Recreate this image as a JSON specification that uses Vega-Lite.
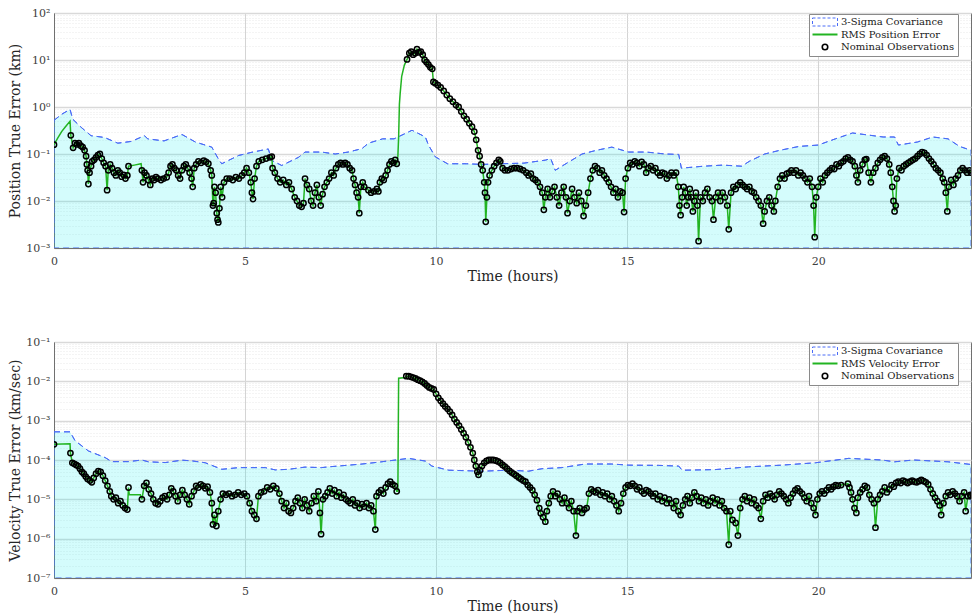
{
  "$schema": "https://vega.github.io/schema/vega-lite/v6.json",
  "padding": {"left": 8, "top": 6, "right": 0, "bottom": 0},
  "bounds": "flush",
  "spacing": 94,
  "datasets": {
    "posErr": [
      {"t":0,"v":0.158,"o":1},{"t":0.1,"v":0.22,"o":0},{"t":0.2,"v":0.3,"o":0},{"t":0.3,"v":0.38,"o":0},{"t":0.42,"v":0.5,"o":0},
      {"t":0.44,"v":0.25,"o":1},{"t":0.5,"v":0.135,"o":1},{"t":0.55,"v":0.17,"o":1},{"t":0.6,"v":0.16,"o":1},{"t":0.65,"v":0.17,"o":1},
      {"t":0.7,"v":0.15,"o":1},{"t":0.75,"v":0.14,"o":1},{"t":0.8,"v":0.12,"o":1},{"t":0.84,"v":0.09,"o":1},{"t":0.86,"v":0.06,"o":1},
      {"t":0.88,"v":0.045,"o":1},{"t":0.9,"v":0.023,"o":1},{"t":0.93,"v":0.04,"o":1},{"t":0.97,"v":0.055,"o":1},{"t":1.0,"v":0.07,"o":1},
      {"t":1.05,"v":0.075,"o":1},{"t":1.1,"v":0.085,"o":1},{"t":1.15,"v":0.095,"o":1},{"t":1.2,"v":0.1,"o":1},{"t":1.25,"v":0.08,"o":1},
      {"t":1.3,"v":0.065,"o":1},{"t":1.35,"v":0.055,"o":1},{"t":1.39,"v":0.017,"o":1},{"t":1.42,"v":0.045,"o":1},{"t":1.47,"v":0.06,"o":1},
      {"t":1.52,"v":0.05,"o":1},{"t":1.57,"v":0.04,"o":1},{"t":1.62,"v":0.035,"o":1},{"t":1.67,"v":0.045,"o":1},{"t":1.72,"v":0.04,"o":1},
      {"t":1.77,"v":0.033,"o":1},{"t":1.82,"v":0.036,"o":1},{"t":1.87,"v":0.03,"o":1},{"t":1.92,"v":0.035,"o":1},{"t":1.95,"v":0.055,"o":1},
      {"t":2.1,"v":0.058,"o":0},{"t":2.28,"v":0.062,"o":0},{"t":2.3,"v":0.045,"o":1},{"t":2.33,"v":0.025,"o":1},{"t":2.37,"v":0.04,"o":1},
      {"t":2.42,"v":0.035,"o":1},{"t":2.47,"v":0.028,"o":1},{"t":2.52,"v":0.022,"o":1},{"t":2.57,"v":0.03,"o":1},{"t":2.62,"v":0.028,"o":1},
      {"t":2.67,"v":0.032,"o":1},{"t":2.72,"v":0.03,"o":1},{"t":2.8,"v":0.028,"o":1},{"t":2.87,"v":0.03,"o":1},{"t":2.95,"v":0.032,"o":1},
      {"t":3.0,"v":0.04,"o":1},{"t":3.05,"v":0.055,"o":1},{"t":3.1,"v":0.06,"o":1},{"t":3.15,"v":0.05,"o":1},{"t":3.2,"v":0.045,"o":1},
      {"t":3.25,"v":0.035,"o":1},{"t":3.3,"v":0.03,"o":1},{"t":3.35,"v":0.045,"o":1},{"t":3.4,"v":0.055,"o":1},{"t":3.45,"v":0.06,"o":1},
      {"t":3.5,"v":0.05,"o":1},{"t":3.55,"v":0.04,"o":1},{"t":3.6,"v":0.03,"o":1},{"t":3.63,"v":0.02,"o":1},{"t":3.67,"v":0.05,"o":1},
      {"t":3.72,"v":0.06,"o":1},{"t":3.78,"v":0.07,"o":1},{"t":3.85,"v":0.065,"o":1},{"t":3.92,"v":0.072,"o":1},{"t":3.98,"v":0.068,"o":1},
      {"t":4.04,"v":0.062,"o":1},{"t":4.1,"v":0.045,"o":1},{"t":4.13,"v":0.035,"o":1},{"t":4.16,"v":0.008,"o":1},{"t":4.18,"v":0.009,"o":1},
      {"t":4.2,"v":0.02,"o":1},{"t":4.23,"v":0.015,"o":1},{"t":4.26,"v":0.0055,"o":1},{"t":4.28,"v":0.004,"o":1},{"t":4.3,"v":0.0035,"o":1},
      {"t":4.33,"v":0.007,"o":1},{"t":4.36,"v":0.02,"o":1},{"t":4.4,"v":0.012,"o":1},{"t":4.45,"v":0.025,"o":1},{"t":4.52,"v":0.03,"o":1},
      {"t":4.6,"v":0.03,"o":1},{"t":4.68,"v":0.028,"o":1},{"t":4.76,"v":0.032,"o":1},{"t":4.84,"v":0.03,"o":1},{"t":4.92,"v":0.035,"o":1},
      {"t":4.98,"v":0.04,"o":1},{"t":5.04,"v":0.05,"o":1},{"t":5.1,"v":0.04,"o":1},{"t":5.15,"v":0.025,"o":1},{"t":5.18,"v":0.015,"o":1},
      {"t":5.21,"v":0.011,"o":1},{"t":5.25,"v":0.03,"o":1},{"t":5.3,"v":0.055,"o":1},{"t":5.36,"v":0.07,"o":1},{"t":5.45,"v":0.075,"o":1},
      {"t":5.55,"v":0.08,"o":1},{"t":5.65,"v":0.085,"o":1},{"t":5.7,"v":0.088,"o":1},{"t":5.72,"v":0.05,"o":1},{"t":5.78,"v":0.04,"o":1},
      {"t":5.85,"v":0.03,"o":1},{"t":5.92,"v":0.025,"o":1},{"t":6.0,"v":0.028,"o":1},{"t":6.08,"v":0.022,"o":1},{"t":6.15,"v":0.025,"o":1},
      {"t":6.22,"v":0.018,"o":1},{"t":6.3,"v":0.012,"o":1},{"t":6.36,"v":0.01,"o":1},{"t":6.42,"v":0.008,"o":1},{"t":6.48,"v":0.0075,"o":1},
      {"t":6.53,"v":0.009,"o":1},{"t":6.57,"v":0.03,"o":1},{"t":6.62,"v":0.022,"o":1},{"t":6.68,"v":0.018,"o":1},{"t":6.73,"v":0.01,"o":1},
      {"t":6.78,"v":0.008,"o":1},{"t":6.83,"v":0.015,"o":1},{"t":6.88,"v":0.022,"o":1},{"t":6.93,"v":0.012,"o":1},{"t":6.98,"v":0.008,"o":1},
      {"t":7.03,"v":0.014,"o":1},{"t":7.08,"v":0.02,"o":1},{"t":7.14,"v":0.025,"o":1},{"t":7.2,"v":0.03,"o":1},{"t":7.26,"v":0.04,"o":1},
      {"t":7.32,"v":0.035,"o":1},{"t":7.38,"v":0.05,"o":1},{"t":7.44,"v":0.06,"o":1},{"t":7.5,"v":0.065,"o":1},{"t":7.56,"v":0.06,"o":1},
      {"t":7.62,"v":0.065,"o":1},{"t":7.68,"v":0.06,"o":1},{"t":7.74,"v":0.05,"o":1},{"t":7.8,"v":0.045,"o":1},{"t":7.84,"v":0.03,"o":1},
      {"t":7.88,"v":0.022,"o":1},{"t":7.92,"v":0.015,"o":1},{"t":7.96,"v":0.012,"o":1},{"t":7.99,"v":0.0055,"o":1},{"t":8.03,"v":0.02,"o":1},
      {"t":8.08,"v":0.025,"o":1},{"t":8.12,"v":0.02,"o":1},{"t":8.23,"v":0.017,"o":1},{"t":8.3,"v":0.015,"o":1},{"t":8.38,"v":0.016,"o":1},
      {"t":8.45,"v":0.018,"o":1},{"t":8.49,"v":0.016,"o":1},{"t":8.53,"v":0.025,"o":1},{"t":8.58,"v":0.03,"o":1},{"t":8.63,"v":0.028,"o":1},
      {"t":8.68,"v":0.035,"o":1},{"t":8.73,"v":0.045,"o":1},{"t":8.78,"v":0.06,"o":1},{"t":8.83,"v":0.07,"o":1},{"t":8.88,"v":0.065,"o":1},
      {"t":8.93,"v":0.075,"o":1},{"t":8.97,"v":0.062,"o":1},{"t":9.0,"v":0.09,"o":0},{"t":9.02,"v":0.23,"o":0},{"t":9.04,"v":1.15,"o":0},
      {"t":9.06,"v":1.95,"o":0},{"t":9.1,"v":4.5,"o":0},{"t":9.17,"v":7.8,"o":0},{"t":9.24,"v":10.3,"o":1},{"t":9.3,"v":14,"o":1},
      {"t":9.35,"v":15,"o":1},{"t":9.4,"v":13,"o":1},{"t":9.45,"v":14,"o":1},{"t":9.5,"v":17,"o":1},{"t":9.55,"v":14.5,"o":1},
      {"t":9.6,"v":15,"o":1},{"t":9.65,"v":13,"o":1},{"t":9.7,"v":10,"o":1},{"t":9.75,"v":9,"o":1},{"t":9.8,"v":8,"o":1},
      {"t":9.85,"v":7,"o":1},{"t":9.9,"v":6.5,"o":1},{"t":9.93,"v":3.4,"o":1},{"t":9.98,"v":3.2,"o":1},{"t":10.05,"v":2.9,"o":1},
      {"t":10.12,"v":2.6,"o":1},{"t":10.2,"v":2.2,"o":1},{"t":10.28,"v":1.8,"o":1},{"t":10.36,"v":1.5,"o":1},{"t":10.44,"v":1.3,"o":1},
      {"t":10.52,"v":1.1,"o":1},{"t":10.59,"v":1.0,"o":1},{"t":10.66,"v":0.8,"o":1},{"t":10.73,"v":0.65,"o":1},{"t":10.8,"v":0.55,"o":1},
      {"t":10.87,"v":0.45,"o":1},{"t":10.94,"v":0.38,"o":1},{"t":11.0,"v":0.3,"o":1},{"t":11.05,"v":0.2,"o":1},{"t":11.1,"v":0.12,"o":1},
      {"t":11.14,"v":0.09,"o":1},{"t":11.18,"v":0.06,"o":1},{"t":11.22,"v":0.045,"o":1},{"t":11.26,"v":0.025,"o":1},{"t":11.28,"v":0.015,"o":1},
      {"t":11.3,"v":0.0036,"o":1},{"t":11.33,"v":0.012,"o":1},{"t":11.36,"v":0.025,"o":1},{"t":11.4,"v":0.035,"o":1},{"t":11.46,"v":0.045,"o":1},
      {"t":11.52,"v":0.055,"o":1},{"t":11.58,"v":0.065,"o":1},{"t":11.64,"v":0.075,"o":1},{"t":11.68,"v":0.07,"o":1},{"t":11.74,"v":0.05,"o":1},
      {"t":11.8,"v":0.045,"o":1},{"t":11.88,"v":0.045,"o":1},{"t":11.96,"v":0.048,"o":1},{"t":12.04,"v":0.05,"o":1},{"t":12.12,"v":0.05,"o":1},
      {"t":12.2,"v":0.048,"o":1},{"t":12.28,"v":0.045,"o":1},{"t":12.36,"v":0.04,"o":1},{"t":12.42,"v":0.035,"o":1},{"t":12.48,"v":0.038,"o":1},
      {"t":12.54,"v":0.03,"o":1},{"t":12.6,"v":0.028,"o":1},{"t":12.66,"v":0.025,"o":1},{"t":12.72,"v":0.02,"o":1},{"t":12.78,"v":0.015,"o":1},
      {"t":12.82,"v":0.0065,"o":1},{"t":12.86,"v":0.012,"o":1},{"t":12.92,"v":0.018,"o":1},{"t":12.98,"v":0.012,"o":1},{"t":13.04,"v":0.016,"o":1},
      {"t":13.1,"v":0.02,"o":1},{"t":13.16,"v":0.012,"o":1},{"t":13.22,"v":0.008,"o":1},{"t":13.28,"v":0.015,"o":1},{"t":13.34,"v":0.02,"o":1},
      {"t":13.4,"v":0.012,"o":1},{"t":13.44,"v":0.0055,"o":1},{"t":13.5,"v":0.01,"o":1},{"t":13.56,"v":0.018,"o":1},{"t":13.62,"v":0.012,"o":1},
      {"t":13.68,"v":0.009,"o":1},{"t":13.74,"v":0.015,"o":1},{"t":13.8,"v":0.01,"o":1},{"t":13.86,"v":0.0048,"o":1},{"t":13.92,"v":0.008,"o":1},
      {"t":13.98,"v":0.015,"o":1},{"t":14.04,"v":0.03,"o":1},{"t":14.1,"v":0.045,"o":1},{"t":14.16,"v":0.055,"o":1},{"t":14.22,"v":0.05,"o":1},
      {"t":14.28,"v":0.04,"o":1},{"t":14.34,"v":0.045,"o":1},{"t":14.4,"v":0.035,"o":1},{"t":14.46,"v":0.03,"o":1},{"t":14.52,"v":0.025,"o":1},
      {"t":14.58,"v":0.02,"o":1},{"t":14.64,"v":0.015,"o":1},{"t":14.7,"v":0.018,"o":1},{"t":14.76,"v":0.012,"o":1},{"t":14.82,"v":0.016,"o":1},
      {"t":14.88,"v":0.015,"o":1},{"t":14.92,"v":0.0058,"o":1},{"t":14.96,"v":0.03,"o":1},{"t":15.02,"v":0.05,"o":1},{"t":15.08,"v":0.065,"o":1},
      {"t":15.14,"v":0.06,"o":1},{"t":15.2,"v":0.07,"o":1},{"t":15.26,"v":0.065,"o":1},{"t":15.32,"v":0.055,"o":1},{"t":15.38,"v":0.068,"o":1},
      {"t":15.44,"v":0.06,"o":1},{"t":15.5,"v":0.04,"o":1},{"t":15.56,"v":0.05,"o":1},{"t":15.62,"v":0.055,"o":1},{"t":15.68,"v":0.045,"o":1},
      {"t":15.74,"v":0.05,"o":1},{"t":15.8,"v":0.04,"o":1},{"t":15.86,"v":0.035,"o":1},{"t":15.92,"v":0.04,"o":1},{"t":15.98,"v":0.038,"o":1},
      {"t":16.04,"v":0.03,"o":1},{"t":16.1,"v":0.035,"o":1},{"t":16.16,"v":0.04,"o":1},{"t":16.22,"v":0.035,"o":1},{"t":16.28,"v":0.04,"o":1},
      {"t":16.34,"v":0.02,"o":1},{"t":16.37,"v":0.008,"o":1},{"t":16.4,"v":0.005,"o":1},{"t":16.44,"v":0.012,"o":1},{"t":16.48,"v":0.02,"o":1},
      {"t":16.52,"v":0.015,"o":1},{"t":16.56,"v":0.008,"o":1},{"t":16.6,"v":0.012,"o":1},{"t":16.64,"v":0.018,"o":1},{"t":16.68,"v":0.012,"o":1},
      {"t":16.72,"v":0.006,"o":1},{"t":16.76,"v":0.01,"o":1},{"t":16.8,"v":0.015,"o":1},{"t":16.84,"v":0.008,"o":1},{"t":16.87,"v":0.0014,"o":1},
      {"t":16.92,"v":0.012,"o":1},{"t":16.98,"v":0.01,"o":1},{"t":17.04,"v":0.015,"o":1},{"t":17.1,"v":0.018,"o":1},{"t":17.16,"v":0.012,"o":1},
      {"t":17.22,"v":0.01,"o":1},{"t":17.26,"v":0.004,"o":1},{"t":17.32,"v":0.012,"o":1},{"t":17.38,"v":0.015,"o":1},{"t":17.44,"v":0.01,"o":1},
      {"t":17.5,"v":0.015,"o":1},{"t":17.56,"v":0.012,"o":1},{"t":17.62,"v":0.008,"o":1},{"t":17.66,"v":0.0025,"o":1},{"t":17.72,"v":0.015,"o":1},
      {"t":17.78,"v":0.02,"o":1},{"t":17.84,"v":0.018,"o":1},{"t":17.9,"v":0.022,"o":1},{"t":17.96,"v":0.025,"o":1},{"t":18.02,"v":0.022,"o":1},
      {"t":18.08,"v":0.02,"o":1},{"t":18.14,"v":0.018,"o":1},{"t":18.2,"v":0.02,"o":1},{"t":18.26,"v":0.016,"o":1},{"t":18.32,"v":0.015,"o":1},
      {"t":18.38,"v":0.012,"o":1},{"t":18.44,"v":0.01,"o":1},{"t":18.5,"v":0.008,"o":1},{"t":18.56,"v":0.0033,"o":1},{"t":18.6,"v":0.006,"o":1},
      {"t":18.66,"v":0.01,"o":1},{"t":18.72,"v":0.012,"o":1},{"t":18.78,"v":0.008,"o":1},{"t":18.84,"v":0.006,"o":1},{"t":18.88,"v":0.01,"o":1},
      {"t":18.94,"v":0.02,"o":1},{"t":19.0,"v":0.03,"o":1},{"t":19.06,"v":0.035,"o":1},{"t":19.12,"v":0.03,"o":1},{"t":19.18,"v":0.038,"o":1},
      {"t":19.24,"v":0.04,"o":1},{"t":19.3,"v":0.045,"o":1},{"t":19.36,"v":0.04,"o":1},{"t":19.42,"v":0.045,"o":1},{"t":19.48,"v":0.035,"o":1},
      {"t":19.54,"v":0.04,"o":1},{"t":19.6,"v":0.035,"o":1},{"t":19.66,"v":0.03,"o":1},{"t":19.72,"v":0.025,"o":1},{"t":19.78,"v":0.03,"o":1},
      {"t":19.84,"v":0.02,"o":1},{"t":19.88,"v":0.008,"o":1},{"t":19.91,"v":0.0017,"o":1},{"t":19.95,"v":0.012,"o":1},{"t":20.0,"v":0.02,"o":1},
      {"t":20.06,"v":0.03,"o":1},{"t":20.12,"v":0.025,"o":1},{"t":20.18,"v":0.035,"o":1},{"t":20.24,"v":0.04,"o":1},{"t":20.3,"v":0.045,"o":1},
      {"t":20.36,"v":0.05,"o":1},{"t":20.42,"v":0.048,"o":1},{"t":20.48,"v":0.06,"o":1},{"t":20.54,"v":0.055,"o":1},{"t":20.6,"v":0.065,"o":1},
      {"t":20.66,"v":0.07,"o":1},{"t":20.72,"v":0.08,"o":1},{"t":20.78,"v":0.085,"o":1},{"t":20.84,"v":0.075,"o":1},{"t":20.9,"v":0.07,"o":1},
      {"t":20.96,"v":0.055,"o":1},{"t":21.0,"v":0.035,"o":1},{"t":21.04,"v":0.025,"o":1},{"t":21.1,"v":0.045,"o":1},{"t":21.16,"v":0.06,"o":1},
      {"t":21.22,"v":0.075,"o":1},{"t":21.26,"v":0.078,"o":1},{"t":21.32,"v":0.04,"o":1},{"t":21.38,"v":0.025,"o":1},{"t":21.44,"v":0.04,"o":1},
      {"t":21.5,"v":0.05,"o":1},{"t":21.56,"v":0.065,"o":1},{"t":21.62,"v":0.075,"o":1},{"t":21.68,"v":0.085,"o":1},{"t":21.74,"v":0.09,"o":1},
      {"t":21.8,"v":0.08,"o":1},{"t":21.86,"v":0.06,"o":1},{"t":21.9,"v":0.04,"o":1},{"t":21.94,"v":0.02,"o":1},{"t":21.97,"v":0.01,"o":1},
      {"t":22.0,"v":0.006,"o":1},{"t":22.03,"v":0.008,"o":1},{"t":22.06,"v":0.03,"o":1},{"t":22.12,"v":0.05,"o":1},{"t":22.18,"v":0.045,"o":1},
      {"t":22.24,"v":0.055,"o":1},{"t":22.3,"v":0.06,"o":1},{"t":22.36,"v":0.065,"o":1},{"t":22.42,"v":0.07,"o":1},{"t":22.48,"v":0.075,"o":1},
      {"t":22.54,"v":0.08,"o":1},{"t":22.6,"v":0.09,"o":1},{"t":22.66,"v":0.1,"o":1},{"t":22.72,"v":0.11,"o":1},{"t":22.78,"v":0.105,"o":1},
      {"t":22.84,"v":0.095,"o":1},{"t":22.9,"v":0.08,"o":1},{"t":22.96,"v":0.07,"o":1},{"t":23.02,"v":0.06,"o":1},{"t":23.08,"v":0.05,"o":1},
      {"t":23.14,"v":0.045,"o":1},{"t":23.2,"v":0.04,"o":1},{"t":23.26,"v":0.03,"o":1},{"t":23.3,"v":0.025,"o":1},{"t":23.34,"v":0.015,"o":1},
      {"t":23.38,"v":0.006,"o":1},{"t":23.42,"v":0.02,"o":1},{"t":23.48,"v":0.028,"o":1},{"t":23.54,"v":0.022,"o":1},{"t":23.6,"v":0.03,"o":1},
      {"t":23.66,"v":0.035,"o":1},{"t":23.72,"v":0.045,"o":1},{"t":23.78,"v":0.05,"o":1},{"t":23.84,"v":0.045,"o":1},{"t":23.9,"v":0.04,"o":1},
      {"t":23.96,"v":0.045,"o":1},{"t":24.0,"v":0.04,"o":1}
    ],
    "posCov": [
      {"t":0,"v":0.52},{"t":0.2,"v":0.7},{"t":0.42,"v":0.89},{"t":0.49,"v":0.55},{"t":0.71,"v":0.37},{"t":0.97,"v":0.245},
      {"t":1.32,"v":0.225},{"t":1.67,"v":0.17},{"t":2.02,"v":0.185},{"t":2.37,"v":0.245},{"t":2.45,"v":0.21},{"t":2.88,"v":0.19},
      {"t":3.35,"v":0.26},{"t":3.7,"v":0.18},{"t":4.13,"v":0.14},{"t":4.3,"v":0.079},{"t":4.39,"v":0.062},{"t":4.83,"v":0.093},
      {"t":5.18,"v":0.109},{"t":5.61,"v":0.128},{"t":5.7,"v":0.073},{"t":5.96,"v":0.057},{"t":6.4,"v":0.085},{"t":6.57,"v":0.11},
      {"t":7.0,"v":0.11},{"t":7.36,"v":0.1},{"t":7.7,"v":0.11},{"t":8.06,"v":0.13},{"t":8.23,"v":0.17},{"t":8.6,"v":0.21},
      {"t":8.9,"v":0.21},{"t":9.37,"v":0.32},{"t":9.72,"v":0.23},{"t":9.8,"v":0.155},{"t":9.98,"v":0.087},{"t":10.3,"v":0.062},
      {"t":10.8,"v":0.062},{"t":11.2,"v":0.06},{"t":11.7,"v":0.062},{"t":12.3,"v":0.064},{"t":12.86,"v":0.074},{"t":13.0,"v":0.08},
      {"t":13.12,"v":0.045},{"t":13.29,"v":0.055},{"t":13.82,"v":0.1},{"t":14.2,"v":0.12},{"t":14.6,"v":0.14},{"t":15.04,"v":0.11},
      {"t":15.5,"v":0.11},{"t":16.0,"v":0.1},{"t":16.35,"v":0.098},{"t":16.42,"v":0.05},{"t":17.0,"v":0.055},{"t":17.5,"v":0.058},
      {"t":18.0,"v":0.055},{"t":18.2,"v":0.07},{"t":18.6,"v":0.1},{"t":19.0,"v":0.12},{"t":19.5,"v":0.145},{"t":20.0,"v":0.155},
      {"t":20.45,"v":0.21},{"t":20.9,"v":0.28},{"t":21.2,"v":0.26},{"t":21.7,"v":0.23},{"t":22.0,"v":0.23},{"t":22.1,"v":0.155},
      {"t":22.6,"v":0.18},{"t":23.0,"v":0.23},{"t":23.4,"v":0.21},{"t":23.7,"v":0.145},{"t":24.0,"v":0.12}
    ],
    "velErr": [
      {"t":0,"v":2.5e-4,"o":1},{"t":0.42,"v":2.6e-4,"o":0},{"t":0.43,"v":1.5e-4,"o":1},{"t":0.48,"v":8.5e-5,"o":1},{"t":0.53,"v":8.0e-5,"o":1},
      {"t":0.58,"v":7.5e-5,"o":1},{"t":0.63,"v":7e-5,"o":1},{"t":0.68,"v":6e-5,"o":1},{"t":0.73,"v":5e-5,"o":1},{"t":0.78,"v":4.5e-5,"o":1},
      {"t":0.83,"v":3.8e-5,"o":1},{"t":0.88,"v":3.3e-5,"o":1},{"t":0.94,"v":3e-5,"o":1},{"t":0.99,"v":2.7e-5,"o":1},{"t":1.04,"v":3.5e-5,"o":1},
      {"t":1.1,"v":4.5e-5,"o":1},{"t":1.16,"v":5.2e-5,"o":1},{"t":1.22,"v":5e-5,"o":1},{"t":1.28,"v":4e-5,"o":1},{"t":1.34,"v":3e-5,"o":1},
      {"t":1.4,"v":2.2e-5,"o":1},{"t":1.46,"v":1.6e-5,"o":1},{"t":1.5,"v":1.2e-5,"o":1},{"t":1.56,"v":1.0e-5,"o":1},{"t":1.62,"v":1.1e-5,"o":1},
      {"t":1.68,"v":8e-6,"o":1},{"t":1.74,"v":9e-6,"o":1},{"t":1.8,"v":7e-6,"o":1},{"t":1.86,"v":6e-6,"o":1},{"t":1.92,"v":5.5e-6,"o":1},
      {"t":1.95,"v":2.0e-5,"o":1},{"t":1.97,"v":1.3e-5,"o":0},{"t":2.26,"v":1.3e-5,"o":0},{"t":2.3,"v":1.0e-5,"o":1},{"t":2.36,"v":2.2e-5,"o":1},
      {"t":2.42,"v":2.6e-5,"o":1},{"t":2.48,"v":1.8e-5,"o":1},{"t":2.54,"v":1.4e-5,"o":1},{"t":2.6,"v":1.0e-5,"o":1},{"t":2.66,"v":8e-6,"o":1},
      {"t":2.72,"v":7.5e-6,"o":1},{"t":2.78,"v":9e-6,"o":1},{"t":2.84,"v":1.1e-5,"o":1},{"t":2.9,"v":1.2e-5,"o":1},{"t":2.96,"v":1.0e-5,"o":1},
      {"t":3.02,"v":1.3e-5,"o":1},{"t":3.07,"v":1.9e-5,"o":1},{"t":3.12,"v":1.6e-5,"o":1},{"t":3.18,"v":1.2e-5,"o":1},{"t":3.24,"v":9e-6,"o":1},
      {"t":3.3,"v":1.3e-5,"o":1},{"t":3.36,"v":1.7e-5,"o":1},{"t":3.42,"v":1.3e-5,"o":1},{"t":3.48,"v":1e-5,"o":1},{"t":3.54,"v":7.5e-6,"o":1},
      {"t":3.6,"v":1.2e-5,"o":1},{"t":3.66,"v":1.6e-5,"o":1},{"t":3.72,"v":2.2e-5,"o":1},{"t":3.78,"v":2.0e-5,"o":1},{"t":3.84,"v":2.4e-5,"o":1},
      {"t":3.9,"v":2.2e-5,"o":1},{"t":3.96,"v":1.9e-5,"o":1},{"t":4.02,"v":2.1e-5,"o":1},{"t":4.08,"v":1.5e-5,"o":1},{"t":4.13,"v":8e-6,"o":1},
      {"t":4.16,"v":2.3e-6,"o":1},{"t":4.2,"v":4e-6,"o":1},{"t":4.25,"v":2.1e-6,"o":1},{"t":4.3,"v":5e-6,"o":1},{"t":4.36,"v":1.0e-5,"o":1},
      {"t":4.42,"v":1.4e-5,"o":1},{"t":4.5,"v":1.3e-5,"o":1},{"t":4.58,"v":1.4e-5,"o":1},{"t":4.66,"v":1.2e-5,"o":1},{"t":4.74,"v":1.3e-5,"o":1},
      {"t":4.82,"v":1.5e-5,"o":1},{"t":4.9,"v":1.3e-5,"o":1},{"t":4.98,"v":1.4e-5,"o":1},{"t":5.05,"v":1.2e-5,"o":1},{"t":5.12,"v":8e-6,"o":1},
      {"t":5.18,"v":5e-6,"o":1},{"t":5.24,"v":4e-6,"o":1},{"t":5.3,"v":3.2e-6,"o":1},{"t":5.35,"v":1.2e-5,"o":1},{"t":5.42,"v":1.5e-5,"o":1},
      {"t":5.5,"v":1.6e-5,"o":1},{"t":5.58,"v":2e-5,"o":1},{"t":5.66,"v":1.8e-5,"o":1},{"t":5.74,"v":2.2e-5,"o":1},{"t":5.82,"v":1.9e-5,"o":1},
      {"t":5.9,"v":1.4e-5,"o":1},{"t":5.96,"v":9e-6,"o":1},{"t":6.02,"v":6e-6,"o":1},{"t":6.08,"v":8e-6,"o":1},{"t":6.14,"v":5e-6,"o":1},
      {"t":6.2,"v":4.5e-6,"o":1},{"t":6.26,"v":6e-6,"o":1},{"t":6.32,"v":9e-6,"o":1},{"t":6.38,"v":1.1e-5,"o":1},{"t":6.44,"v":8e-6,"o":1},
      {"t":6.5,"v":6e-6,"o":1},{"t":6.56,"v":1.0e-5,"o":1},{"t":6.62,"v":7e-6,"o":1},{"t":6.68,"v":5e-6,"o":1},{"t":6.74,"v":8e-6,"o":1},
      {"t":6.8,"v":1.2e-5,"o":1},{"t":6.86,"v":9e-6,"o":1},{"t":6.92,"v":1.6e-5,"o":1},{"t":6.96,"v":4.5e-6,"o":1},{"t":6.99,"v":1.3e-6,"o":1},
      {"t":7.04,"v":1.0e-5,"o":1},{"t":7.1,"v":1.2e-5,"o":1},{"t":7.16,"v":1.5e-5,"o":1},{"t":7.22,"v":1.9e-5,"o":1},{"t":7.28,"v":1.4e-5,"o":1},
      {"t":7.34,"v":1.7e-5,"o":1},{"t":7.4,"v":1.2e-5,"o":1},{"t":7.46,"v":1.5e-5,"o":1},{"t":7.52,"v":1.1e-5,"o":1},{"t":7.58,"v":1.3e-5,"o":1},
      {"t":7.64,"v":1.0e-5,"o":1},{"t":7.7,"v":9e-6,"o":1},{"t":7.76,"v":8e-6,"o":1},{"t":7.82,"v":1e-5,"o":1},{"t":7.88,"v":7e-6,"o":1},
      {"t":7.94,"v":8e-6,"o":1},{"t":8.0,"v":6e-6,"o":1},{"t":8.06,"v":7.5e-6,"o":1},{"t":8.12,"v":6.5e-6,"o":1},{"t":8.18,"v":8e-6,"o":1},
      {"t":8.24,"v":6e-6,"o":1},{"t":8.3,"v":7e-6,"o":1},{"t":8.36,"v":5e-6,"o":1},{"t":8.41,"v":1.7e-6,"o":1},{"t":8.44,"v":1.2e-5,"o":1},
      {"t":8.5,"v":1.5e-5,"o":1},{"t":8.56,"v":1.7e-5,"o":1},{"t":8.62,"v":1.4e-5,"o":1},{"t":8.68,"v":2.0e-5,"o":1},{"t":8.74,"v":2.5e-5,"o":1},
      {"t":8.8,"v":2.8e-5,"o":1},{"t":8.86,"v":2.4e-5,"o":1},{"t":8.92,"v":2.2e-5,"o":1},{"t":8.97,"v":1.6e-5,"o":1},{"t":9.0,"v":1.6e-5,"o":0},
      {"t":9.02,"v":0.012,"o":0},{"t":9.2,"v":0.0125,"o":0},{"t":9.22,"v":0.0135,"o":1},{"t":9.28,"v":0.0135,"o":1},{"t":9.34,"v":0.013,"o":1},
      {"t":9.4,"v":0.0125,"o":1},{"t":9.46,"v":0.0118,"o":1},{"t":9.52,"v":0.011,"o":1},{"t":9.58,"v":0.0104,"o":1},{"t":9.64,"v":0.0097,"o":1},
      {"t":9.7,"v":0.0088,"o":1},{"t":9.76,"v":0.0078,"o":1},{"t":9.82,"v":0.007,"o":1},{"t":9.88,"v":0.0066,"o":1},{"t":9.94,"v":0.0062,"o":1},
      {"t":10.0,"v":0.0048,"o":1},{"t":10.06,"v":0.0038,"o":1},{"t":10.12,"v":0.0032,"o":1},{"t":10.18,"v":0.0027,"o":1},{"t":10.24,"v":0.0023,"o":1},
      {"t":10.3,"v":0.002,"o":1},{"t":10.36,"v":0.0017,"o":1},{"t":10.42,"v":0.0014,"o":1},{"t":10.48,"v":0.0011,"o":1},{"t":10.54,"v":0.0009,"o":1},
      {"t":10.6,"v":0.00075,"o":1},{"t":10.66,"v":0.0006,"o":1},{"t":10.72,"v":0.00048,"o":1},{"t":10.78,"v":0.00038,"o":1},{"t":10.84,"v":0.00028,"o":1},
      {"t":10.9,"v":0.00021,"o":1},{"t":10.96,"v":0.00015,"o":1},{"t":11.0,"v":0.0001,"o":1},{"t":11.04,"v":7e-5,"o":1},{"t":11.08,"v":5e-5,"o":1},
      {"t":11.11,"v":4.2e-5,"o":1},{"t":11.15,"v":5.5e-5,"o":1},{"t":11.2,"v":7e-5,"o":1},{"t":11.26,"v":8.5e-5,"o":1},{"t":11.32,"v":9.5e-5,"o":1},
      {"t":11.38,"v":1e-4,"o":1},{"t":11.44,"v":1e-4,"o":1},{"t":11.5,"v":1e-4,"o":1},{"t":11.56,"v":9.7e-5,"o":1},{"t":11.62,"v":9.2e-5,"o":1},
      {"t":11.68,"v":8.5e-5,"o":1},{"t":11.74,"v":7.5e-5,"o":1},{"t":11.8,"v":6.8e-5,"o":1},{"t":11.86,"v":6e-5,"o":1},{"t":11.92,"v":5.3e-5,"o":1},
      {"t":11.98,"v":4.8e-5,"o":1},{"t":12.04,"v":4.4e-5,"o":1},{"t":12.1,"v":4e-5,"o":1},{"t":12.16,"v":3.6e-5,"o":1},{"t":12.22,"v":3.3e-5,"o":1},
      {"t":12.28,"v":3e-5,"o":1},{"t":12.34,"v":2.8e-5,"o":1},{"t":12.4,"v":2.3e-5,"o":1},{"t":12.46,"v":2e-5,"o":1},{"t":12.52,"v":1.7e-5,"o":1},
      {"t":12.58,"v":1.3e-5,"o":1},{"t":12.64,"v":9.5e-6,"o":1},{"t":12.7,"v":6e-6,"o":1},{"t":12.74,"v":4.4e-6,"o":1},{"t":12.8,"v":3.5e-6,"o":1},
      {"t":12.86,"v":2.7e-6,"o":1},{"t":12.9,"v":5e-6,"o":1},{"t":12.95,"v":8e-6,"o":1},{"t":13.0,"v":1.2e-5,"o":1},{"t":13.06,"v":1.6e-5,"o":1},
      {"t":13.12,"v":1.2e-5,"o":1},{"t":13.18,"v":1.4e-5,"o":1},{"t":13.24,"v":1e-5,"o":1},{"t":13.3,"v":8e-6,"o":1},{"t":13.36,"v":1.1e-5,"o":1},
      {"t":13.42,"v":8e-6,"o":1},{"t":13.48,"v":6e-6,"o":1},{"t":13.54,"v":9e-6,"o":1},{"t":13.6,"v":5e-6,"o":1},{"t":13.66,"v":1.2e-6,"o":1},
      {"t":13.7,"v":5e-6,"o":1},{"t":13.76,"v":6e-6,"o":1},{"t":13.82,"v":4.5e-6,"o":1},{"t":13.88,"v":5.5e-6,"o":1},{"t":13.94,"v":6e-6,"o":1},
      {"t":14.0,"v":1.4e-5,"o":1},{"t":14.06,"v":1.8e-5,"o":1},{"t":14.12,"v":1.6e-5,"o":1},{"t":14.18,"v":1.5e-5,"o":1},{"t":14.24,"v":1.7e-5,"o":1},
      {"t":14.3,"v":1.3e-5,"o":1},{"t":14.36,"v":1.5e-5,"o":1},{"t":14.42,"v":1.2e-5,"o":1},{"t":14.48,"v":1.4e-5,"o":1},{"t":14.54,"v":1.0e-5,"o":1},
      {"t":14.6,"v":1.2e-5,"o":1},{"t":14.66,"v":9e-6,"o":1},{"t":14.72,"v":7e-6,"o":1},{"t":14.78,"v":5e-6,"o":1},{"t":14.84,"v":8e-6,"o":1},
      {"t":14.9,"v":1.4e-5,"o":1},{"t":14.96,"v":2.0e-5,"o":1},{"t":15.02,"v":2.3e-5,"o":1},{"t":15.08,"v":2.2e-5,"o":1},{"t":15.14,"v":2.5e-5,"o":1},
      {"t":15.2,"v":2.2e-5,"o":1},{"t":15.26,"v":1.8e-5,"o":1},{"t":15.32,"v":2e-5,"o":1},{"t":15.38,"v":1.6e-5,"o":1},{"t":15.44,"v":1.4e-5,"o":1},
      {"t":15.5,"v":1.7e-5,"o":1},{"t":15.56,"v":1.6e-5,"o":1},{"t":15.62,"v":1.4e-5,"o":1},{"t":15.68,"v":1.2e-5,"o":1},{"t":15.74,"v":1.4e-5,"o":1},
      {"t":15.8,"v":1.0e-5,"o":1},{"t":15.86,"v":1.2e-5,"o":1},{"t":15.92,"v":9e-6,"o":1},{"t":15.98,"v":1.1e-5,"o":1},{"t":16.04,"v":8e-6,"o":1},
      {"t":16.1,"v":1.0e-5,"o":1},{"t":16.16,"v":8e-6,"o":1},{"t":16.22,"v":6e-6,"o":1},{"t":16.28,"v":9e-6,"o":1},{"t":16.34,"v":5e-6,"o":1},
      {"t":16.4,"v":4e-6,"o":1},{"t":16.46,"v":7e-6,"o":1},{"t":16.52,"v":1.0e-5,"o":1},{"t":16.58,"v":1.2e-5,"o":1},{"t":16.64,"v":8e-6,"o":1},
      {"t":16.7,"v":1.1e-5,"o":1},{"t":16.76,"v":1.5e-5,"o":1},{"t":16.82,"v":1.2e-5,"o":1},{"t":16.88,"v":9e-6,"o":1},{"t":16.94,"v":1.1e-5,"o":1},
      {"t":17.0,"v":8e-6,"o":1},{"t":17.06,"v":1.0e-5,"o":1},{"t":17.12,"v":7e-6,"o":1},{"t":17.18,"v":9e-6,"o":1},{"t":17.24,"v":1.1e-5,"o":1},
      {"t":17.3,"v":8e-6,"o":1},{"t":17.36,"v":1.0e-5,"o":1},{"t":17.42,"v":7e-6,"o":1},{"t":17.48,"v":9e-6,"o":1},{"t":17.54,"v":6e-6,"o":1},
      {"t":17.6,"v":5e-6,"o":1},{"t":17.66,"v":7e-7,"o":1},{"t":17.7,"v":5e-6,"o":1},{"t":17.76,"v":3e-6,"o":1},{"t":17.84,"v":2.5e-6,"o":1},
      {"t":17.9,"v":1.2e-6,"o":1},{"t":17.96,"v":6e-6,"o":1},{"t":18.02,"v":1.0e-5,"o":1},{"t":18.08,"v":1.2e-5,"o":1},{"t":18.14,"v":9e-6,"o":1},
      {"t":18.2,"v":1.1e-5,"o":1},{"t":18.26,"v":8e-6,"o":1},{"t":18.32,"v":1.0e-5,"o":1},{"t":18.38,"v":7e-6,"o":1},{"t":18.44,"v":6e-6,"o":1},
      {"t":18.5,"v":3.2e-6,"o":1},{"t":18.56,"v":9e-6,"o":1},{"t":18.62,"v":1.3e-5,"o":1},{"t":18.68,"v":1.1e-5,"o":1},{"t":18.74,"v":1.4e-5,"o":1},
      {"t":18.8,"v":1.2e-5,"o":1},{"t":18.86,"v":1.0e-5,"o":1},{"t":18.92,"v":1.3e-5,"o":1},{"t":18.98,"v":1.6e-5,"o":1},{"t":19.04,"v":1.4e-5,"o":1},
      {"t":19.1,"v":1.2e-5,"o":1},{"t":19.16,"v":1e-5,"o":1},{"t":19.22,"v":8e-6,"o":1},{"t":19.28,"v":1.1e-5,"o":1},{"t":19.34,"v":1.4e-5,"o":1},
      {"t":19.4,"v":1.7e-5,"o":1},{"t":19.46,"v":1.9e-5,"o":1},{"t":19.52,"v":1.6e-5,"o":1},{"t":19.58,"v":1.4e-5,"o":1},{"t":19.64,"v":1.1e-5,"o":1},
      {"t":19.7,"v":9e-6,"o":1},{"t":19.76,"v":1.2e-5,"o":1},{"t":19.82,"v":8e-6,"o":1},{"t":19.88,"v":6e-6,"o":1},{"t":19.93,"v":4e-6,"o":1},
      {"t":19.98,"v":1.0e-5,"o":1},{"t":20.04,"v":1.4e-5,"o":1},{"t":20.1,"v":1.6e-5,"o":1},{"t":20.16,"v":1.4e-5,"o":1},{"t":20.22,"v":1.7e-5,"o":1},
      {"t":20.28,"v":2.0e-5,"o":1},{"t":20.34,"v":1.8e-5,"o":1},{"t":20.4,"v":2.1e-5,"o":1},{"t":20.46,"v":2.3e-5,"o":1},{"t":20.52,"v":2.2e-5,"o":1},
      {"t":20.6,"v":2.3e-5,"o":1},{"t":20.78,"v":2.5e-5,"o":1},{"t":20.82,"v":2.0e-5,"o":1},{"t":20.86,"v":1.5e-5,"o":1},{"t":20.9,"v":1.0e-5,"o":1},
      {"t":20.95,"v":6e-6,"o":1},{"t":21.0,"v":4.5e-6,"o":1},{"t":21.04,"v":1.1e-5,"o":1},{"t":21.1,"v":1.5e-5,"o":1},{"t":21.16,"v":1.8e-5,"o":1},
      {"t":21.22,"v":2.2e-5,"o":1},{"t":21.28,"v":2.0e-5,"o":1},{"t":21.34,"v":1.3e-5,"o":1},{"t":21.4,"v":1.0e-5,"o":1},{"t":21.46,"v":8e-6,"o":1},
      {"t":21.5,"v":1.9e-6,"o":1},{"t":21.56,"v":1e-5,"o":1},{"t":21.62,"v":1.3e-5,"o":1},{"t":21.68,"v":1.6e-5,"o":1},{"t":21.74,"v":2.0e-5,"o":1},
      {"t":21.8,"v":1.5e-5,"o":1},{"t":21.86,"v":1.8e-5,"o":1},{"t":21.92,"v":2.3e-5,"o":1},{"t":21.98,"v":2.1e-5,"o":1},{"t":22.04,"v":2.6e-5,"o":1},
      {"t":22.1,"v":2.8e-5,"o":1},{"t":22.16,"v":2.6e-5,"o":1},{"t":22.22,"v":3.0e-5,"o":1},{"t":22.28,"v":2.8e-5,"o":1},{"t":22.34,"v":2.6e-5,"o":1},
      {"t":22.4,"v":2.8e-5,"o":1},{"t":22.46,"v":3.0e-5,"o":1},{"t":22.52,"v":2.8e-5,"o":1},{"t":22.58,"v":2.7e-5,"o":1},{"t":22.64,"v":2.9e-5,"o":1},
      {"t":22.7,"v":3.1e-5,"o":1},{"t":22.76,"v":2.9e-5,"o":1},{"t":22.82,"v":2.7e-5,"o":1},{"t":22.88,"v":2.4e-5,"o":1},{"t":22.94,"v":1.8e-5,"o":1},
      {"t":23.0,"v":1.4e-5,"o":1},{"t":23.06,"v":1.1e-5,"o":1},{"t":23.12,"v":9e-6,"o":1},{"t":23.18,"v":7e-6,"o":1},{"t":23.22,"v":4e-6,"o":1},
      {"t":23.28,"v":8e-6,"o":1},{"t":23.34,"v":1.2e-5,"o":1},{"t":23.4,"v":1.5e-5,"o":1},{"t":23.46,"v":1.3e-5,"o":1},{"t":23.52,"v":1.6e-5,"o":1},
      {"t":23.58,"v":1.4e-5,"o":1},{"t":23.64,"v":1.2e-5,"o":1},{"t":23.7,"v":9e-6,"o":1},{"t":23.76,"v":1.2e-5,"o":1},{"t":23.82,"v":1.5e-5,"o":1},
      {"t":23.86,"v":5e-6,"o":1},{"t":23.92,"v":1.2e-5,"o":1},{"t":23.98,"v":1.3e-5,"o":1},{"t":24.0,"v":1.2e-5,"o":1}
    ],
    "velCov": [
      {"t":0,"v":5.2e-4},{"t":0.42,"v":5.2e-4},{"t":0.55,"v":3.1e-4},{"t":0.9,"v":1.7e-4},{"t":1.34,"v":1.15e-4},{"t":1.51,"v":9.1e-5},
      {"t":1.95,"v":9.1e-5},{"t":2.3,"v":1.0e-4},{"t":2.47,"v":9e-5},{"t":2.91,"v":8.6e-5},{"t":3.35,"v":9.9e-5},{"t":3.61,"v":9.5e-5},
      {"t":3.96,"v":8.5e-5},{"t":4.39,"v":5.8e-5},{"t":4.83,"v":6.4e-5},{"t":5.53,"v":6.4e-5},{"t":5.79,"v":5.6e-5},{"t":6.14,"v":5.8e-5},
      {"t":6.57,"v":6.6e-5},{"t":7.0,"v":6.4e-5},{"t":7.19,"v":6.7e-5},{"t":8.06,"v":7.9e-5},{"t":8.49,"v":8.8e-5},{"t":9.28,"v":1.1e-4},
      {"t":9.72,"v":9.4e-5},{"t":9.89,"v":7e-5},{"t":10.33,"v":5.5e-5},{"t":11.2,"v":5.2e-5},{"t":11.9,"v":5.5e-5},{"t":12.42,"v":5.2e-5},
      {"t":12.77,"v":6e-5},{"t":13.29,"v":6.4e-5},{"t":13.9,"v":7.9e-5},{"t":14.6,"v":7.9e-5},{"t":15.04,"v":7.4e-5},{"t":15.82,"v":7.3e-5},
      {"t":16.35,"v":7e-5},{"t":16.44,"v":5.5e-5},{"t":17.3,"v":5.7e-5},{"t":18.18,"v":6.7e-5},{"t":19.05,"v":7.4e-5},{"t":19.93,"v":8.5e-5},
      {"t":20.8,"v":1.1e-4},{"t":21.67,"v":1.0e-4},{"t":22.0,"v":9e-5},{"t":22.5,"v":1.0e-4},{"t":23.4,"v":9e-5},{"t":24.0,"v":7.7e-5}
    ]
  },
  "vconcat": [
    {
      "width": 917,
      "height": 235,
      "layer": [
        {
          "data": {"name": "posCov"},
          "mark": {"type": "area", "clip": true, "fill": "#00eeee", "fillOpacity": 0.17, "stroke": "#4a6cf7", "strokeDash": [6, 4], "strokeWidth": 1},
          "encoding": {
            "x": {"field": "t", "type": "quantitative", "scale": {"domain": [0, 24], "nice": false},
                  "axis": {"values": [0, 5, 10, 15, 20], "title": "Time (hours)", "labelFlush": false, "labelPadding": 7, "titlePadding": 3, "gridColor": "#d4d4d4"}},
            "y": {"field": "v", "type": "quantitative",
                  "scale": {"type": "log", "domain": [0.001, 100], "nice": false},
                  "axis": {
                    "title": "Position True Error (km)",
                    "values": [0.001,0.002,0.003,0.004,0.005,0.006,0.007,0.008,0.009,0.01,0.02,0.03,0.04,0.05,0.06,0.07,0.08,0.09,0.1,0.2,0.3,0.4,0.5,0.6,0.7,0.8,0.9,1,2,3,4,5,6,7,8,9,10,20,30,40,50,60,70,80,90,100],
                    "labelExpr": "abs(log(datum.value)/LN10 - round(log(datum.value)/LN10)) < 0.01 ? '10' + (round(log(datum.value)/LN10) < 0 ? '⁻' : '') + ['⁰','¹','²','³','⁴','⁵','⁶','⁷','⁸','⁹'][abs(round(log(datum.value)/LN10))] : ''",
                    "labelOverlap": false,
                    "gridDash": {"condition": {"test": "abs(log(datum.value)/LN10 - round(log(datum.value)/LN10)) < 0.01", "value": []}, "value": [1, 2]},
                    "gridColor": {"condition": {"test": "abs(log(datum.value)/LN10 - round(log(datum.value)/LN10)) < 0.01", "value": "#d9d9d9"}, "value": "#e2e2e2"},
                    "gridWidth": {"condition": {"test": "abs(log(datum.value)/LN10 - round(log(datum.value)/LN10)) < 0.01", "value": 1.4}, "value": 0.8},
                    "labelPadding": 4,
                    "titlePadding": 3
                  }},
            "y2": {"datum": 0.001}
          }
        },
        {
          "data": {"name": "posCov"},
          "mark": {"type": "line", "clip": true, "strokeDash": [6, 4], "strokeWidth": 1},
          "encoding": {
            "x": {"field": "t", "type": "quantitative"},
            "y": {"field": "v", "type": "quantitative"},
            "color": {
              "datum": "3-Sigma Covariance",
              "scale": {"domain": ["3-Sigma Covariance", "RMS Position Error", "Nominal Observations"], "range": ["#4a6cf7", "#22b422", "#000000"]},
              "legend": {
                "orient": "none", "legendX": 755, "legendY": 1, "title": null,
                "fillColor": "#ffffff", "strokeColor": "#8a8a8a", "padding": 3, "rowPadding": 1.5,
                "labelFont": "DejaVu Serif", "labelFontSize": 10, "labelColor": "#1a1a1a",
                "symbolSize": 100, "symbolOffset": 8, "labelOffset": 11,
                "symbolType": {"expr": "datum.value === '3-Sigma Covariance' ? 'M-2.5,-0.8H2.5V0.8H-2.5Z' : datum.value === 'Nominal Observations' ? 'M0.55,0A0.55,0.55,0,1,1,-0.55,0A0.55,0.55,0,1,1,0.55,0Z' : 'M-2.5,0H2.5'"},
                "symbolFillColor": {"expr": "datum.value === '3-Sigma Covariance' ? '#d4fcfc' : 'transparent'"},
                "symbolStrokeWidth": {"expr": "datum.value === 'RMS Position Error' ? 2 : datum.value === 'Nominal Observations' ? 1.6 : 1"},
                "symbolDash": {"expr": "datum.value === '3-Sigma Covariance' ? [3, 2] : []"}
              }
            }
          }
        },
        {
          "data": {"name": "posErr"},
          "mark": {"type": "line", "clip": true, "strokeWidth": 1.5},
          "encoding": {
            "x": {"field": "t", "type": "quantitative"},
            "y": {"field": "v", "type": "quantitative"},
            "color": {"datum": "RMS Position Error"}
          }
        },
        {
          "data": {"name": "posErr"},
          "transform": [{"filter": "datum.o == 1"}],
          "mark": {"type": "point", "clip": true, "filled": false, "size": 28, "strokeWidth": 1.5, "opacity": 1},
          "encoding": {
            "x": {"field": "t", "type": "quantitative"},
            "y": {"field": "v", "type": "quantitative"},
            "color": {"datum": "Nominal Observations"}
          }
        }
      ]
    },
    {
      "width": 917,
      "height": 236,
      "layer": [
        {
          "data": {"name": "velCov"},
          "mark": {"type": "area", "clip": true, "fill": "#00eeee", "fillOpacity": 0.17, "stroke": "#4a6cf7", "strokeDash": [6, 4], "strokeWidth": 1},
          "encoding": {
            "x": {"field": "t", "type": "quantitative", "scale": {"domain": [0, 24], "nice": false},
                  "axis": {"values": [0, 5, 10, 15, 20], "title": "Time (hours)", "labelFlush": false, "labelPadding": 7, "titlePadding": 3, "gridColor": "#d4d4d4"}},
            "y": {"field": "v", "type": "quantitative",
                  "scale": {"type": "log", "domain": [1e-7, 0.1], "nice": false},
                  "axis": {
                    "title": "Velocity True Error (km/sec)",
                    "values": [1e-7,2e-7,3e-7,4e-7,5e-7,6e-7,7e-7,8e-7,9e-7,1e-6,2e-6,3e-6,4e-6,5e-6,6e-6,7e-6,8e-6,9e-6,1e-5,2e-5,3e-5,4e-5,5e-5,6e-5,7e-5,8e-5,9e-5,1e-4,2e-4,3e-4,4e-4,5e-4,6e-4,7e-4,8e-4,9e-4,0.001,0.002,0.003,0.004,0.005,0.006,0.007,0.008,0.009,0.01,0.02,0.03,0.04,0.05,0.06,0.07,0.08,0.09,0.1],
                    "labelExpr": "abs(log(datum.value)/LN10 - round(log(datum.value)/LN10)) < 0.01 ? '10' + (round(log(datum.value)/LN10) < 0 ? '⁻' : '') + ['⁰','¹','²','³','⁴','⁵','⁶','⁷','⁸','⁹'][abs(round(log(datum.value)/LN10))] : ''",
                    "labelOverlap": false,
                    "gridDash": {"condition": {"test": "abs(log(datum.value)/LN10 - round(log(datum.value)/LN10)) < 0.01", "value": []}, "value": [1, 2]},
                    "gridColor": {"condition": {"test": "abs(log(datum.value)/LN10 - round(log(datum.value)/LN10)) < 0.01", "value": "#d9d9d9"}, "value": "#e2e2e2"},
                    "gridWidth": {"condition": {"test": "abs(log(datum.value)/LN10 - round(log(datum.value)/LN10)) < 0.01", "value": 1.4}, "value": 0.8},
                    "labelPadding": 4,
                    "titlePadding": 3
                  }},
            "y2": {"datum": 1e-7}
          }
        },
        {
          "data": {"name": "velCov"},
          "mark": {"type": "line", "clip": true, "strokeDash": [6, 4], "strokeWidth": 1},
          "encoding": {
            "x": {"field": "t", "type": "quantitative"},
            "y": {"field": "v", "type": "quantitative"},
            "color": {
              "datum": "3-Sigma Covariance",
              "scale": {"domain": ["3-Sigma Covariance", "RMS Velocity Error", "Nominal Observations"], "range": ["#4a6cf7", "#22b422", "#000000"]},
              "legend": {
                "orient": "none", "legendX": 755, "legendY": 1, "title": null,
                "fillColor": "#ffffff", "strokeColor": "#8a8a8a", "padding": 3, "rowPadding": 1.5,
                "labelFont": "DejaVu Serif", "labelFontSize": 10, "labelColor": "#1a1a1a",
                "symbolSize": 100, "symbolOffset": 8, "labelOffset": 11,
                "symbolType": {"expr": "datum.value === '3-Sigma Covariance' ? 'M-2.5,-0.8H2.5V0.8H-2.5Z' : datum.value === 'Nominal Observations' ? 'M0.55,0A0.55,0.55,0,1,1,-0.55,0A0.55,0.55,0,1,1,0.55,0Z' : 'M-2.5,0H2.5'"},
                "symbolFillColor": {"expr": "datum.value === '3-Sigma Covariance' ? '#d4fcfc' : 'transparent'"},
                "symbolStrokeWidth": {"expr": "datum.value === 'RMS Velocity Error' ? 2 : datum.value === 'Nominal Observations' ? 1.6 : 1"},
                "symbolDash": {"expr": "datum.value === '3-Sigma Covariance' ? [3, 2] : []"}
              }
            }
          }
        },
        {
          "data": {"name": "velErr"},
          "mark": {"type": "line", "clip": true, "strokeWidth": 1.5},
          "encoding": {
            "x": {"field": "t", "type": "quantitative"},
            "y": {"field": "v", "type": "quantitative"},
            "color": {"datum": "RMS Velocity Error"}
          }
        },
        {
          "data": {"name": "velErr"},
          "transform": [{"filter": "datum.o == 1"}],
          "mark": {"type": "point", "clip": true, "filled": false, "size": 28, "strokeWidth": 1.5, "opacity": 1},
          "encoding": {
            "x": {"field": "t", "type": "quantitative"},
            "y": {"field": "v", "type": "quantitative"},
            "color": {"datum": "Nominal Observations"}
          }
        }
      ]
    }
  ],
  "resolve": {"scale": {"color": "independent", "y": "independent"}, "legend": {"color": "independent"}},
  "config": {
    "font": "DejaVu Serif",
    "background": "#ffffff",
    "view": {"stroke": "#707070", "strokeWidth": 1},
    "axis": {
      "labelFont": "DejaVu Serif", "labelFontSize": 11, "labelColor": "#404040",
      "titleFont": "DejaVu Serif", "titleFontSize": 14, "titleFontWeight": "normal", "titleColor": "#262626",
      "domainColor": "#707070", "ticks": false
    }
  }
}
